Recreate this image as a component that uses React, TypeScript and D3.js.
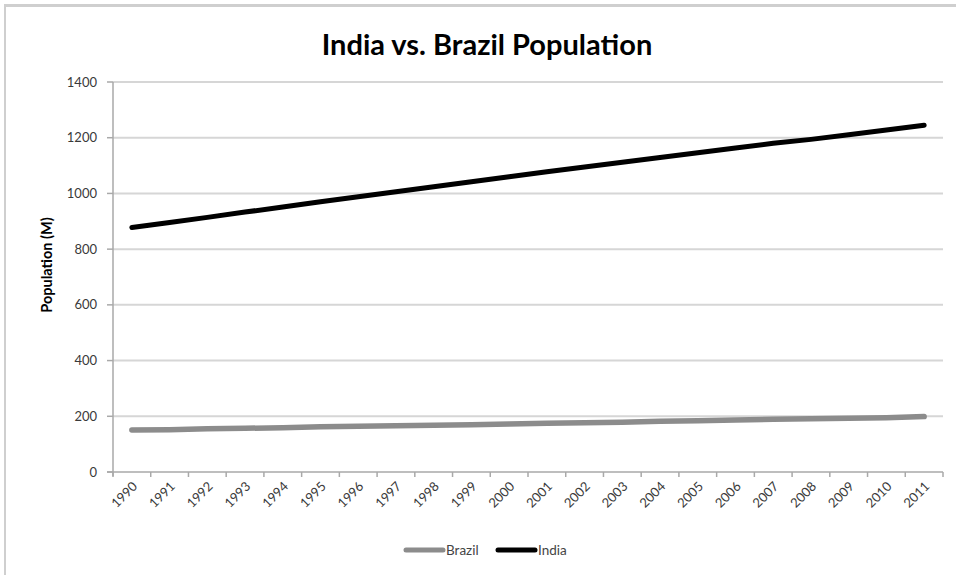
import React, { useEffect, useRef } from "react";
import * as d3 from "d3";

const years = [
  "1990", "1991", "1992", "1993", "1994", "1995", "1996", "1997", "1998", "1999", "2000",
  "2001", "2002", "2003", "2004", "2005", "2006", "2007", "2008", "2009", "2010", "2011",
];
const india = [
  878, 896, 914, 933, 951, 970, 988, 1006, 1024, 1042, 1060,
  1078, 1095, 1112, 1129, 1146, 1163, 1180, 1194, 1211, 1228, 1245,
];
const brazil = [
  151, 152, 155, 157, 159, 162, 164, 166, 168, 170, 172,
  175, 177, 179, 182, 184, 187, 189, 191, 193, 195, 199,
];
const yTicks = [0, 200, 400, 600, 800, 1000, 1200, 1400];
const seriesNames = ["Brazil", "India"];
const seriesColors = ["#8c8c8c", "#000000"];

const W = 956;
const H = 575;
const FONT = "Lato, 'Open Sans', sans-serif";

export default function App() {
  const ref = useRef<SVGSVGElement>(null);

  useEffect(() => {
    const svg = d3.select(ref.current);
    svg.selectAll("*").remove();

    const left = 113, right = 943, top = 82, bottom = 472;

    // frame
    svg.append("rect").attr("x", 0).attr("y", 0).attr("width", W).attr("height", H).attr("fill", "#fff");
    svg.append("line").attr("x1", 5).attr("x2", W).attr("y1", 5.5).attr("y2", 5.5)
      .attr("stroke", "#cfcfcf").attr("stroke-width", 3);
    svg.append("line").attr("x1", 5).attr("x2", 5).attr("y1", 4).attr("y2", H)
      .attr("stroke", "#cfcfcf").attr("stroke-width", 2);

    const x = d3.scaleBand<string>().domain(years).range([left, right]).padding(0);
    const y = d3.scaleLinear().domain([0, 1400]).range([bottom, top]);

    // gridlines
    svg.append("g").selectAll("line").data(yTicks.filter(t => t > 0)).join("line")
      .attr("x1", left).attr("x2", right)
      .attr("y1", d => y(d)).attr("y2", d => y(d))
      .attr("stroke", "#d6d6d6").attr("stroke-width", 2);

    // y axis
    const yAxis = svg.append("g");
    yAxis.append("line").attr("x1", left).attr("x2", left).attr("y1", top).attr("y2", bottom + 4)
      .attr("stroke", "#a9a9a9").attr("stroke-width", 1.5);
    yAxis.selectAll("line.tick").data(yTicks).join("line").attr("class", "tick")
      .attr("x1", left - 6).attr("x2", left)
      .attr("y1", d => y(d)).attr("y2", d => y(d))
      .attr("stroke", "#a9a9a9").attr("stroke-width", 1.5);
    yAxis.selectAll("text").data(yTicks).join("text")
      .attr("x", left - 16).attr("y", d => y(d)).attr("dy", "0.35em")
      .attr("text-anchor", "end").attr("font-family", FONT).attr("font-size", 13)
      .attr("fill", "#3a3a3a").text(d => String(d));

    // x axis
    const xAxis = svg.append("g");
    xAxis.append("line").attr("x1", left - 6).attr("x2", right).attr("y1", bottom).attr("y2", bottom)
      .attr("stroke", "#a9a9a9").attr("stroke-width", 1.5);
    const boundaries = years.map(yr => x(yr) as number).concat([right]);
    xAxis.selectAll("line.tick").data(boundaries).join("line").attr("class", "tick")
      .attr("x1", d => d).attr("x2", d => d).attr("y1", bottom).attr("y2", bottom + 5)
      .attr("stroke", "#a9a9a9").attr("stroke-width", 1.5);
    xAxis.selectAll("text").data(years).join("text")
      .attr("transform", d => `translate(${(x(d) as number) + x.bandwidth() / 2 + 3},${bottom + 12}) rotate(-45)`)
      .attr("text-anchor", "end").attr("dy", "0.35em")
      .attr("font-family", FONT).attr("font-size", 13).attr("fill", "#3a3a3a")
      .text(d => d);

    // lines
    const cx = (yr: string) => (x(yr) as number) + x.bandwidth() / 2;
    const line = d3.line<number>().x((_, i) => cx(years[i])).y(d => y(d));
    [brazil, india].forEach((data, i) => {
      svg.append("path").datum(data).attr("d", line)
        .attr("fill", "none").attr("stroke", seriesColors[i])
        .attr("stroke-width", i === 0 ? 5.5 : 5)
        .attr("stroke-linecap", "round").attr("stroke-linejoin", "round");
    });

    // title
    svg.append("text").attr("x", 487).attr("y", 55).attr("text-anchor", "middle")
      .attr("font-family", FONT).attr("font-weight", "bold").attr("font-size", 29)
      .attr("fill", "#000").text("India vs. Brazil Population");

    // y axis title
    svg.append("text").attr("transform", `translate(52,265) rotate(-90)`)
      .attr("text-anchor", "middle").attr("font-family", FONT).attr("font-weight", "bold")
      .attr("font-size", 14.5).attr("fill", "#000").text("Population (M)");

    // legend
    const legX = [406, 498];
    seriesNames.forEach((name, i) => {
      svg.append("line").attr("x1", legX[i]).attr("x2", legX[i] + 37).attr("y1", 550).attr("y2", 550)
        .attr("stroke", seriesColors[i]).attr("stroke-width", 5).attr("stroke-linecap", "round");
      svg.append("text").attr("x", legX[i] + 40).attr("y", 550).attr("dy", "0.35em")
        .attr("font-family", FONT).attr("font-size", 13.5).attr("fill", "#444").text(name);
    });
  }, []);

  return (
    <svg ref={ref} width={W} height={H}
      style={{ position: "absolute", left: 0, top: 0, display: "block" }} />
  );
}
